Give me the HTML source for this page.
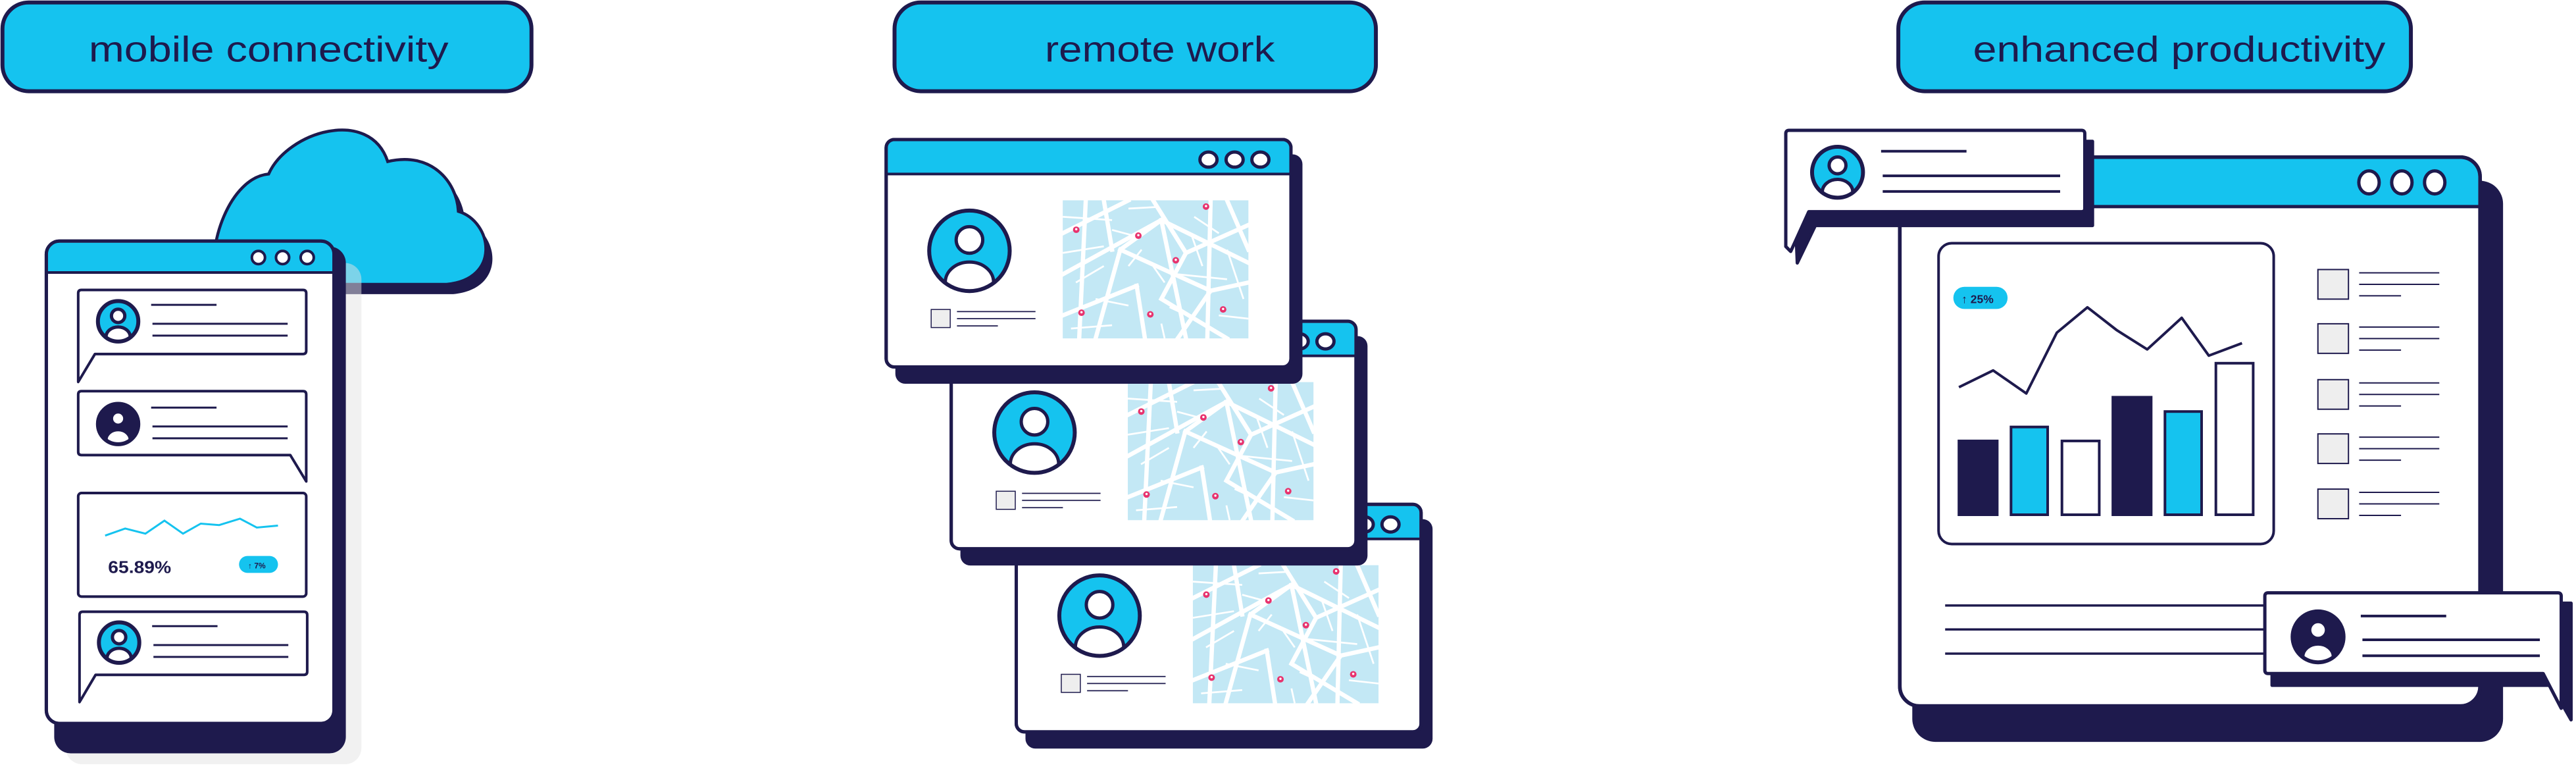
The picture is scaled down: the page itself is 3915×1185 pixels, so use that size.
<!DOCTYPE html>
<html><head><meta charset="utf-8"><style>html,body{margin:0;padding:0;background:#fff}svg{display:block}</style></head>
<body>
<svg width="3915" height="1185" viewBox="0 0 1568 474.6" preserveAspectRatio="none" xmlns="http://www.w3.org/2000/svg" font-family="'Liberation Sans', sans-serif">
<defs>
<clipPath id="avc"><circle r="1"/></clipPath>
<g id="av">
  <circle r="1" fill="currentColor"/>
  <g clip-path="url(#avc)">
    <ellipse cx="0" cy="0.78" rx="0.6" ry="0.5" fill="#fff" stroke="#1E1A4D" stroke-width="5" vector-effect="non-scaling-stroke"/>
  </g>
  <circle cx="0" cy="-0.27" r="0.33" fill="#fff" stroke="#1E1A4D" stroke-width="5" vector-effect="non-scaling-stroke"/>
  <circle r="1" fill="none" stroke="#1E1A4D" stroke-width="6" vector-effect="non-scaling-stroke"/>
</g>
<g id="map">
  <rect x="0" y="0" width="113" height="84" fill="#C3E8F5"/>
  <g stroke="#fff" stroke-width="2.6" fill="none" stroke-linecap="square">
    <path d="M0 20 L40 0"/><path d="M0 45 L60 12 L113 38"/><path d="M20 84 L35 30 L60 12"/>
    <path d="M60 12 L75 84"/><path d="M35 30 L90 55 L113 50"/><path d="M0 70 L45 52"/>
    <path d="M90 0 L88 84"/><path d="M55 0 L75 32 L113 15"/><path d="M90 55 L70 84"/>
    <path d="M14 0 L10 84"/><path d="M45 52 L50 84"/><path d="M100 0 L113 30"/>
    <path d="M25 0 L30 30"/><path d="M75 32 L60 60 L100 84"/>
  </g>
  <g stroke="#fff" stroke-width="1.1" fill="none">
    <path d="M0 10 L30 12"/><path d="M0 32 L25 28"/><path d="M40 5 L58 4"/><path d="M70 45 L100 48"/>
    <path d="M20 60 L40 64"/><path d="M5 78 L30 76"/><path d="M65 65 L80 72"/><path d="M95 70 L113 72"/>
    <path d="M40 40 L48 30"/><path d="M80 10 L95 20"/><path d="M100 30 L110 60"/><path d="M30 18 L45 22"/>
    <path d="M55 40 L62 50"/><path d="M78 20 L85 40"/><path d="M8 50 L25 40"/><path d="M60 75 L62 84"/>
  </g>
  <g fill="#E8336E">
    <circle cx="8.2" cy="17.9" r="2"/><circle cx="46" cy="21.5" r="2"/><circle cx="68.8" cy="36.5" r="2"/>
    <circle cx="87.2" cy="3.8" r="2"/><circle cx="11.4" cy="68.4" r="2"/><circle cx="53.3" cy="69.4" r="2"/><circle cx="97.6" cy="66.4" r="2"/>
  </g>
  <g fill="#fff">
    <circle cx="8.2" cy="17.6" r="0.7"/><circle cx="46" cy="21.2" r="0.7"/><circle cx="68.8" cy="36.2" r="0.7"/>
    <circle cx="87.2" cy="3.5" r="0.7"/><circle cx="11.4" cy="68.1" r="0.7"/><circle cx="53.3" cy="69.1" r="0.7"/><circle cx="97.6" cy="66.1" r="0.7"/>
  </g>
</g>
<g id="win">
  <rect x="5.6" y="9" width="247.8" height="139.6" rx="6" fill="#1E1A4D"/>
  <rect x="0" y="0" width="246.4" height="138.4" rx="5" fill="#fff" stroke="#1E1A4D" stroke-width="2"/>
  <path d="M1 21 V5 Q1 1 5 1 H241.4 Q245.4 1 245.4 5 V21 Z" fill="#15C3EF"/>
  <line x1="0" y1="21" x2="246.4" y2="21" stroke="#1E1A4D" stroke-width="1.6"/>
  <rect x="0" y="0" width="246.4" height="138.4" rx="5" fill="none" stroke="#1E1A4D" stroke-width="2"/>
  <g fill="#fff" stroke="#1E1A4D" stroke-width="2"><ellipse cx="196.2" cy="12.2" rx="5.2" ry="4.6"/><ellipse cx="212.1" cy="12.2" rx="5.2" ry="4.6"/><ellipse cx="227.8" cy="12.2" rx="5.2" ry="4.6"/></g>
  <use href="#av" transform="translate(50.7 67.7) scale(24.5)" style="color:#15C3EF"/>
  <rect x="27.4" y="103.4" width="11.6" height="11" fill="#eee" stroke="#1E1A4D" stroke-width="0.6"/>
  <g stroke="#1E1A4D" stroke-width="0.7"><line x1="43.1" y1="104.7" x2="90.9" y2="104.7"/><line x1="43.1" y1="109" x2="90.9" y2="109"/><line x1="43.1" y1="113.4" x2="68" y2="113.4"/></g>
  <use href="#map" transform="translate(107.5 37)"/>
</g>
</defs>

<!-- Pills -->
<g stroke="#1E1A4D" stroke-width="2.4" fill="#15C3EF">
  <rect x="1.5" y="1.5" width="322" height="54" rx="16"/>
  <rect x="544.5" y="1.5" width="293" height="54" rx="16"/>
  <rect x="1155.5" y="1.5" width="312" height="54" rx="16"/>
</g>
<g fill="#1E1A4D" font-size="22">
  <text x="54" y="37.5" textLength="219" lengthAdjust="spacingAndGlyphs">mobile connectivity</text>
  <text x="636" y="37.5" textLength="140" lengthAdjust="spacingAndGlyphs">remote work</text>
  <text x="1201" y="37.5" textLength="251" lengthAdjust="spacingAndGlyphs">enhanced productivity</text>
</g>

<!-- Panel 1 -->
<path d="M135.8,179 C129,156 144,114 167.5,111.9 C179,86 229,71 240,104.3 C266,98 282,116 283,134.6 C304,141 309,176 275.8,179 Z" fill="#1E1A4D"/>
<path d="M131.8,173 C125,150 140,108 163.5,105.9 C175,80 225,65 236,98.3 C262,92 278,110 279,128.6 C300,135 305,170 271.8,173 Z" fill="#15C3EF" stroke="#1E1A4D" stroke-width="1.8"/>
<rect x="40" y="160" width="180" height="305" fill="#e4e4e4" opacity="0.5" rx="10"/>
<rect x="33" y="150" width="177.5" height="308.4" rx="10" fill="#1E1A4D"/>
<rect x="28.2" y="146.7" width="175.1" height="293.5" rx="8" fill="#fff" stroke="#1E1A4D" stroke-width="2"/>
<path d="M29.2,165.8 V152 Q29.2,147.7 34,147.7 H197.5 Q202.3,147.7 202.3,152 V165.8 Z" fill="#15C3EF"/>
<line x1="28.2" y1="165.8" x2="203.3" y2="165.8" stroke="#1E1A4D" stroke-width="1.6"/>
<rect x="28.2" y="146.7" width="175.1" height="293.5" rx="8" fill="none" stroke="#1E1A4D" stroke-width="2"/>
<g fill="#fff" stroke="#1E1A4D" stroke-width="1.6"><circle cx="157.3" cy="156.7" r="4"/><circle cx="172" cy="156.7" r="4"/><circle cx="187" cy="156.7" r="4"/></g>
<g fill="#fff" stroke="#1E1A4D" stroke-width="1.6" stroke-linejoin="round">
  <path d="M47.6,178.4 Q47.6,176.4 49.6,176.4 H184.4 Q186.4,176.4 186.4,178.4 V213.4 Q186.4,215.4 184.4,215.4 H57.8 L47.6,232.4 Z"/>
  <path d="M49.6,238 H184.4 Q186.4,238 186.4,240 V292.9 L176.7,276.9 H49.6 Q47.6,276.9 47.6,274.9 V240 Q47.6,238 49.6,238 Z"/>
  <rect x="47.6" y="300" width="138.8" height="63" rx="2"/>
  <path d="M48.4,374.2 Q48.4,372.2 50.4,372.2 H185 Q187,372.2 187,374.2 V408.6 Q187,410.6 185,410.6 H58.2 L48.4,427.2 Z"/>
</g>
<use href="#av" transform="translate(71.9 195.5) scale(12.3)" style="color:#15C3EF"/>
<use href="#av" transform="translate(71.9 258) scale(12.3)" style="color:#1E1A4D"/>
<use href="#av" transform="translate(72.5 391) scale(12.3)" style="color:#15C3EF"/>
<g stroke="#1E1A4D" stroke-width="1.2">
  <line x1="92" y1="185.5" x2="131.8" y2="185.5"/><line x1="92.8" y1="197" x2="175.1" y2="197"/><line x1="92.8" y1="204.2" x2="175.1" y2="204.2"/>
  <line x1="92" y1="248" x2="131.8" y2="248"/><line x1="92.8" y1="259.5" x2="175.1" y2="259.5"/><line x1="92.8" y1="266.7" x2="175.1" y2="266.7"/>
  <line x1="92.6" y1="381" x2="132.4" y2="381"/><line x1="93.4" y1="392.5" x2="175.5" y2="392.5"/><line x1="93.4" y1="399.7" x2="175.5" y2="399.7"/>
</g>
<polyline points="64,325.9 76.2,321.6 88.5,324.7 100.1,316.8 111.4,324.7 122.2,318.6 133.4,319.5 146.1,315.6 156.3,321 169.2,319.8" fill="none" stroke="#15C3EF" stroke-width="1.2"/>
<text x="65.8" y="348.6" font-size="10.5" font-weight="bold" fill="#1E1A4D" textLength="38.4" lengthAdjust="spacingAndGlyphs">65.89%</text>
<rect x="145.5" y="338.3" width="23.7" height="10.3" rx="5.1" fill="#15C3EF"/>
<text x="151" y="345.8" font-size="4.8" font-weight="bold" fill="#1E1A4D">↑ 7%</text>

<!-- Panel 2 -->
<use href="#win" transform="translate(618.6 306.9)"/>
<use href="#win" transform="translate(579 195.5)"/>
<use href="#win" transform="translate(539.4 84.9)"/>

<!-- Panel 3 -->
<rect x="1164" y="110" width="359.6" height="341.4" rx="14" fill="#1E1A4D"/>
<rect x="1156.4" y="95.6" width="353.2" height="334" rx="12" fill="#fff" stroke="#1E1A4D" stroke-width="2.2"/>
<path d="M1157.5,125.7 V108 Q1157.5,96.7 1169,96.7 H1497 Q1508.5,96.7 1508.5,108 V125.7 Z" fill="#15C3EF"/>
<line x1="1156.4" y1="125.7" x2="1509.6" y2="125.7" stroke="#1E1A4D" stroke-width="2"/>
<rect x="1156.4" y="95.6" width="353.2" height="334" rx="12" fill="none" stroke="#1E1A4D" stroke-width="2.2"/>
<g fill="#fff" stroke="#1E1A4D" stroke-width="2"><ellipse cx="1442" cy="111" rx="6.2" ry="7"/><ellipse cx="1462" cy="111" rx="6.2" ry="7"/><ellipse cx="1482" cy="111" rx="6.2" ry="7"/></g>
<rect x="1180" y="148" width="204" height="183" rx="8" fill="#fff" stroke="#1E1A4D" stroke-width="1.6"/>
<rect x="1189" y="174.5" width="33" height="13.5" rx="6.7" fill="#15C3EF"/>
<text x="1194" y="184.5" font-size="7" font-weight="bold" fill="#1E1A4D">↑ 25%</text>
<polyline points="1192.4,235.6 1213.2,225.4 1233.4,239.4 1252,202.4 1270.6,187 1288.6,201 1307,212.6 1328,193.4 1344.5,216.4 1364.7,208.8" fill="none" stroke="#1E1A4D" stroke-width="1.6" stroke-linejoin="round"/>
<g stroke="#1E1A4D" stroke-width="1.6">
  <rect x="1192.4" y="268.3" width="23.3" height="44.9" fill="#1E1A4D"/>
  <rect x="1224.1" y="259.8" width="22.3" height="53.4" fill="#15C3EF"/>
  <rect x="1255.1" y="268.3" width="22.7" height="44.9" fill="#fff"/>
  <rect x="1286.1" y="241.7" width="23.3" height="71.5" fill="#1E1A4D"/>
  <rect x="1317.8" y="250.4" width="22.3" height="62.8" fill="#15C3EF"/>
  <rect x="1348.8" y="221" width="22.7" height="92.2" fill="#fff"/>
</g>
<g fill="#eee" stroke="#1E1A4D" stroke-width="0.8">
  <rect x="1410.9" y="164" width="18.6" height="18"/><rect x="1410.9" y="197" width="18.6" height="18"/>
  <rect x="1410.9" y="231" width="18.6" height="18"/><rect x="1410.9" y="264" width="18.6" height="18"/>
  <rect x="1410.9" y="297.6" width="18.6" height="18"/>
</g>
<g stroke="#1E1A4D" stroke-width="0.8">
  <line x1="1436" y1="166" x2="1484.8" y2="166"/><line x1="1436" y1="173" x2="1484.8" y2="173"/><line x1="1436" y1="180" x2="1461.5" y2="180"/>
  <line x1="1436" y1="199" x2="1484.8" y2="199"/><line x1="1436" y1="206" x2="1484.8" y2="206"/><line x1="1436" y1="213" x2="1461.5" y2="213"/>
  <line x1="1436" y1="233" x2="1484.8" y2="233"/><line x1="1436" y1="240" x2="1484.8" y2="240"/><line x1="1436" y1="247" x2="1461.5" y2="247"/>
  <line x1="1436" y1="266" x2="1484.8" y2="266"/><line x1="1436" y1="273" x2="1484.8" y2="273"/><line x1="1436" y1="280" x2="1461.5" y2="280"/>
  <line x1="1436" y1="299.6" x2="1484.8" y2="299.6"/><line x1="1436" y1="306.6" x2="1484.8" y2="306.6"/><line x1="1436" y1="313.6" x2="1461.5" y2="313.6"/>
</g>
<g stroke="#1E1A4D" stroke-width="1.4">
  <line x1="1184" y1="368.4" x2="1378" y2="368.4"/><line x1="1184" y1="383" x2="1378" y2="383"/><line x1="1184" y1="397.7" x2="1378" y2="397.7"/>
</g>
<!-- top-left bubble -->
<path d="M1091,86 H1273.7 V137.2 H1105 L1094,160 Z" fill="#1E1A4D" stroke="#1E1A4D" stroke-width="2" stroke-linejoin="round"/>
<path d="M1087,81.3 Q1087,79.3 1089,79.3 H1267 Q1269,79.3 1269,81.3 V126.8 Q1269,128.8 1267,128.8 H1101 L1090,153 L1087,150 Z" fill="#fff" stroke="#1E1A4D" stroke-width="2" stroke-linejoin="round"/>
<use href="#av" transform="translate(1118.5 104.8) scale(15.5)" style="color:#15C3EF"/>
<g stroke="#1E1A4D" stroke-width="1.6">
  <line x1="1145" y1="92" x2="1197" y2="92"/><line x1="1146" y1="107" x2="1254" y2="107"/><line x1="1146" y1="116.5" x2="1254" y2="116.5"/>
</g>
<!-- bottom-right bubble -->
<path d="M1383,367 H1565 V438 L1553,417 H1383 Z" fill="#1E1A4D" stroke="#1E1A4D" stroke-width="2" stroke-linejoin="round"/>
<path d="M1380.6,360.7 H1557 Q1559,360.7 1559,362.7 V431 L1548,409.8 H1380.6 Q1378.6,409.8 1378.6,407.8 V362.7 Q1378.6,360.7 1380.6,360.7 Z" fill="#fff" stroke="#1E1A4D" stroke-width="2" stroke-linejoin="round"/>
<use href="#av" transform="translate(1411 387.5) scale(15.5)" style="color:#1E1A4D"/>
<g stroke="#1E1A4D" stroke-width="1.6">
  <line x1="1437" y1="374.8" x2="1489" y2="374.8"/><line x1="1438" y1="389.3" x2="1546" y2="389.3"/><line x1="1438" y1="399" x2="1546" y2="399"/>
</g>
</svg>
</body></html>
